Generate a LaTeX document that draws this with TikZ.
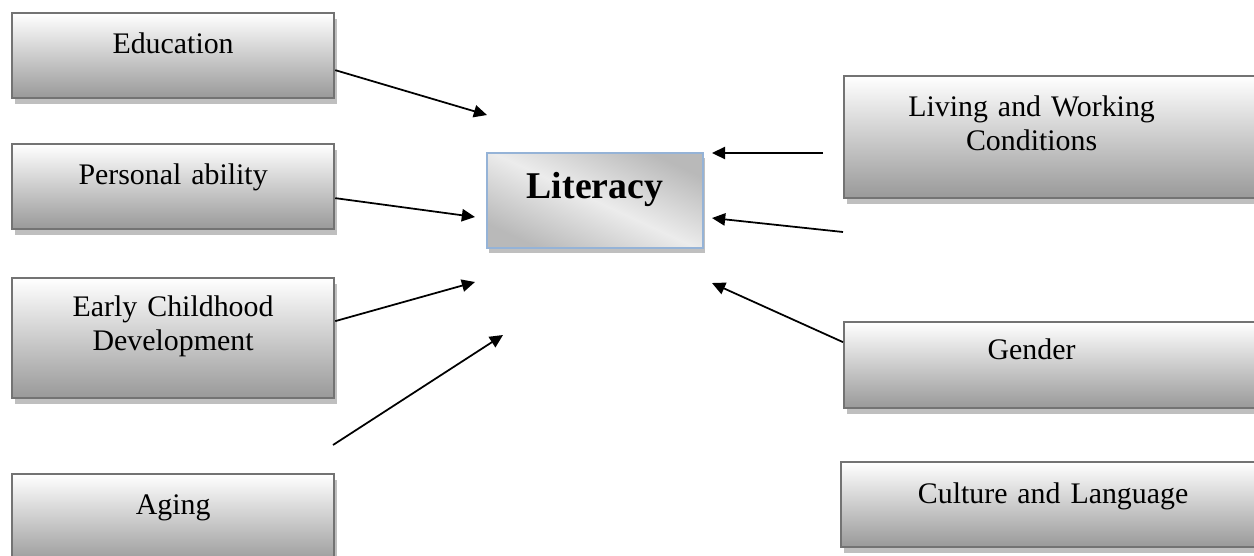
\documentclass[tikz,border=0pt]{standalone}
\usepackage{fontspec}
\setmainfont{Liberation Serif}
\usetikzlibrary{shadows, arrows.meta, calc}

\definecolor{litblue}{RGB}{149,179,215}

\tikzset{
    factor/.style={rectangle, anchor=north west, draw=black!55, line width=1.3pt,
        top color=white, bottom color=gray!80, inner sep=0pt, align=center,
        font=\fontsize{17}{19.8}\selectfont,
        execute at begin node={\leftskip=0pt plus 1fil\rightskip=0pt plus 1fil\parfillskip=0pt},
        drop shadow={shadow xshift=0.05cm, shadow yshift=-0.11cm, fill=black!25, opacity=1}},
    pushleft/.style={execute at begin node={\leftskip=0pt plus 1fil\rightskip=0.88cm plus 1fil\parfillskip=0pt}},
    literacy/.style={factor, draw=litblue, line width=1.1pt,
        top color=gray!55, bottom color=gray!55, middle color=gray!15, shading angle=-25,
        font=\fontsize{21.5}{24}\selectfont\bfseries},
    influence/.style={-{Triangle[length=7.5pt, width=7pt]}, line width=1pt}
}

\begin{document}
\begin{tikzpicture}[x=0.02cm, y=-0.02cm]
    \useasboundingbox (0,0) rectangle (1254,555);

    % Factors on the left
    \node[factor, text width=6.44cm, text height=0.8cm, text depth=0.9cm] (edu) at (11,12) {Education};
    \node[factor, text width=6.44cm, text height=0.8cm, text depth=0.9cm] (ability) at (11,143) {Personal ability};
    \node[factor, text width=6.44cm, text height=0.76cm, text depth=1.64cm] (child) at (11,277) {Early Childhood\\Development};
    \node[factor, text width=6.44cm, text height=0.8cm, text depth=1cm] (aging) at (11,473) {Aging};

    % Factors on the right
    \node[factor, pushleft, text width=8.38cm, text height=0.8cm, text depth=1.64cm] (living) at (843,75) {Living and Working\\Conditions};
    \node[factor, pushleft, text width=8.38cm, text height=0.74cm, text depth=0.98cm] (gender) at (843,321) {Gender};
    \node[factor, text width=8.48cm, text height=0.82cm, text depth=0.88cm] (culture) at (840,461) {Culture and Language};

    % Centre
    \node[literacy, text width=4.32cm, text height=0.92cm, text depth=0.98cm] (lit) at (486,152) {Literacy};

    % Arrow ends
    \coordinate (eduTip) at (487,115);
    \coordinate (abilityTip) at (475,217);
    \coordinate (childTip) at (475,282);
    \coordinate (agingTail) at (333,445);
    \coordinate (agingTip) at (503,335);
    \coordinate (livingTail) at (823,153);
    \coordinate (livingTip) at (712,153);
    \coordinate (midTail) at (843,232);
    \coordinate (midTip) at (712,218);
    \coordinate (genderTip) at (712,283);

    \draw[influence] ($(edu.east)+(0,14.5)$) -- (eduTip);
    \draw[influence] ($(ability.east)+(0,11.5)$) -- (abilityTip);
    \draw[influence] ($(child.east)+(0,-17)$) -- (childTip);
    \draw[influence] (agingTail) -- (agingTip);
    \draw[influence] (livingTail) -- (livingTip);
    \draw[influence] (midTail) -- (midTip);
    \draw[influence] ($(gender.west)+(0,-23)$) -- (genderTip);
\end{tikzpicture}
\end{document}
